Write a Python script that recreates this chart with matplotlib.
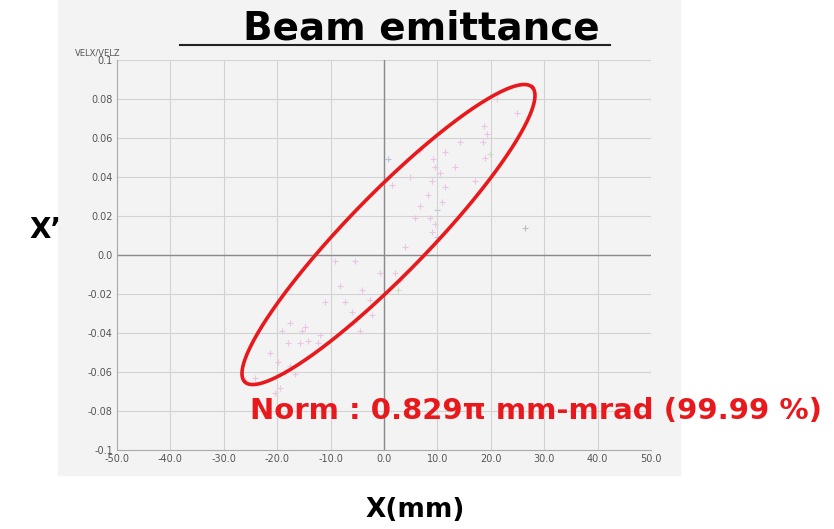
import matplotlib
matplotlib.use("Agg")
import matplotlib.pyplot as plt
import numpy as np
from matplotlib.patches import Rectangle

# particle coordinates (x in mm, x' in rad)
x_pink = [21.2, 24.9, 18.7, 18.5, 19.3, 14.2, 18.9, 6.7, 11.4, 9.2, 9.6, 10.5,
          4.9, 9.0, 17.0, 1.5, 11.4, 10.9, 8.6, 9.6, 9.0, 5.8, 3.9, -0.7, 2.1,
          3.0, -9.2, -5.4, -4.1, -2.6, -6.0, -5.8, -15.4, -14.8, -12.0, -17.6,
          -19.1, -18.0, -15.7, -12.4, -14.2, -21.3, -19.9, -17.6, -18.5, -16.7,
          -24.2, -26.0, -19.5, -20.4, -7.3, -11.0, -8.2, -2.2, -4.5, 6.7, 8.2, 13.3]
y_pink = [0.080, 0.073, 0.066, 0.058, 0.062, 0.058, 0.050, 0.054, 0.053, 0.049,
          0.045, 0.042, 0.040, 0.038, 0.038, 0.036, 0.035, 0.027, 0.019, 0.016,
          0.012, 0.019, 0.004, -0.009, -0.009, -0.013, -0.003, -0.003, -0.018,
          -0.023, -0.029, -0.035, -0.039, -0.037, -0.041, -0.035, -0.039, -0.045,
          -0.045, -0.045, -0.044, -0.050, -0.055, -0.057, -0.060, -0.061, -0.063,
          -0.064, -0.068, -0.071, -0.024, -0.024, -0.016, -0.031, -0.039, 0.025,
          0.031, 0.045]
x_blue = [0.7, 9.9, 9.9]
y_blue = [0.049, 0.023, 0.009]
x_green = [-5.1, 2.6, 19.8]
y_green = [-0.033, -0.018, 0.052]
x_gray = [26.4]
y_gray = [0.014]

# emittance ellipse: centre, half major axis, half minor axis (data units)
centre = (0.84, 0.0105)
major = (26.9, 0.0756)
minor = (5.4, -0.0143)

x_ticks = [-50, -40, -30, -20, -10, 0, 10, 20, 30, 40, 50]
y_ticks = [-0.1, -0.08, -0.06, -0.04, -0.02, 0.0, 0.02, 0.04, 0.06, 0.08, 0.1]

fig = plt.figure(figsize=(8.34, 5.29), dpi=100)
fig.patches.append(Rectangle((58 / 834, 54 / 529), 622 / 834, 475 / 529,
                             transform=fig.transFigure, color="#f3f3f3", zorder=-5))

ax = fig.add_axes([117 / 834, 79 / 529, 534 / 834, 390 / 529])
ax.set_zorder(2)
ax.set_facecolor("#f3f3f3")
ax.set_xlim(-50, 50)
ax.set_ylim(-0.1, 0.1)
ax.set_xticks(x_ticks)
ax.set_yticks(y_ticks)
ax.set_xticklabels(["%.1f" % v for v in x_ticks])
ax.set_yticklabels(["0.0" if v == 0 else ("%.1f" % v if abs(v) == 0.1 else "%.2f" % v) for v in y_ticks])
ax.tick_params(labelsize=7, colors="#555555", length=0, pad=3)
ax.grid(color="#d2d2d2", linewidth=0.8)
ax.axhline(0, color="#8a8a8a", linewidth=1.0)
ax.axvline(0, color="#8a8a8a", linewidth=1.0)
for s in ["top", "right"]:
    ax.spines[s].set_visible(False)
for s in ["left", "bottom"]:
    ax.spines[s].set_color("#aaaaaa")

ax.scatter(x_pink, y_pink, marker="+", s=14, color="#e597d6", alpha=0.5, linewidths=0.8)
ax.scatter(x_blue, y_blue, marker="+", s=14, color="#8ea6e0", alpha=0.6, linewidths=0.8)
ax.scatter(x_green, y_green, marker="+", s=14, color="#a8dc90", alpha=0.6, linewidths=0.8)
ax.scatter(x_gray, y_gray, marker="+", s=14, color="#999999", alpha=0.6, linewidths=0.8)

t = np.linspace(0, 2 * np.pi, 300)
ex = centre[0] + major[0] * np.cos(t) + minor[0] * np.sin(t)
ey = centre[1] + major[1] * np.cos(t) + minor[1] * np.sin(t)
ax.plot(ex, ey, color="#e8191c", linewidth=2.6, clip_on=False)

fig.text(75 / 834, 1 - 55 / 529, "VELX/VELZ", fontsize=6, color="#555555", ha="left")
fig.text(421 / 834, 1 - 28 / 529, "Beam emittance", fontsize=28, fontweight="bold",
         ha="center", va="center", zorder=5)
fig.add_artist(plt.Line2D([180 / 834, 610 / 834], [1 - 45 / 529, 1 - 45 / 529],
                          color="#222222", linewidth=1.5, zorder=4))
fig.text(250 / 834, 1 - 411 / 529, "Norm : 0.829π mm-mrad (99.99 %)", fontsize=21,
         fontweight="bold", color="#e8191c", ha="left", va="center", zorder=5)
fig.text(45 / 834, 1 - 230 / 529, "X\u2019", fontsize=20, fontweight="bold",
         ha="center", va="center")
fig.text(415 / 834, 1 - 510 / 529, "X(mm)", fontsize=19, fontweight="bold",
         ha="center", va="center")

fig.savefig("out.png", dpi=100, facecolor="white")
